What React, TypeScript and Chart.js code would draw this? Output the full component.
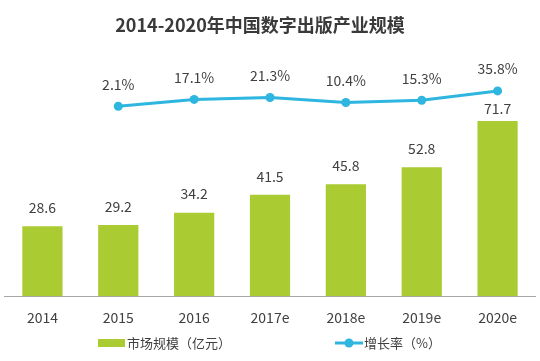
import React, { useEffect, useRef } from "react";
import { Chart, registerables } from "chart.js";

Chart.register(...registerables);

const categories = ["2014", "2015", "2016", "2017e", "2018e", "2019e", "2020e"];
const marketSize = [28.6, 29.2, 34.2, 41.5, 45.8, 52.8, 71.7];
const growthRate = [null, 2.1, 17.1, 21.3, 10.4, 15.3, 35.8];
const titleText = "2014-2020年中国数字出版产业规模";
const barLegend = "市场规模（亿元）";
const lineLegend = "增长率（%）";

const GREEN = "#AACB32";
const BLUE = "#2EB5E0";
const TEXT = "#404040";
const FONT = "'Noto Sans CJK SC', 'Noto Sans', sans-serif";

const decorPlugin = {
  id: "decor",
  afterDatasetsDraw(chart: any) {
    const ctx = chart.ctx;
    ctx.save();
    ctx.fillStyle = TEXT;
    ctx.textAlign = "center";
    ctx.textBaseline = "middle";
    ctx.font = `14px ${FONT}`;
    const barMeta = chart.getDatasetMeta(0);
    barMeta.data.forEach((el: any, i: number) => {
      const off = i === marketSize.length - 1 ? 12.5 : 18.5;
      ctx.fillText(String(marketSize[i]), el.x, el.y - off);
    });
    const lineMeta = chart.getDatasetMeta(1);
    lineMeta.data.forEach((el: any, i: number) => {
      const v = growthRate[i];
      if (v === null || v === undefined) return;
      ctx.fillText(v.toFixed(1) + "%", el.x, el.y - 22);
    });
    ctx.restore();
  },
  afterDraw(chart: any) {
    const ctx = chart.ctx;
    ctx.save();
    // title
    ctx.fillStyle = "#3a3a3a";
    ctx.textAlign = "center";
    ctx.textBaseline = "middle";
    ctx.font = `bold 18px ${FONT}`;
    ctx.fillText(titleText, 260, 25);
    // legend
    const ly = 343;
    ctx.fillStyle = GREEN;
    ctx.fillRect(98, ly - 4, 27, 8);
    ctx.fillStyle = TEXT;
    ctx.textAlign = "left";
    ctx.font = `13px ${FONT}`;
    ctx.fillText(barLegend, 127, ly);
    ctx.strokeStyle = BLUE;
    ctx.lineWidth = 3;
    ctx.beginPath();
    ctx.moveTo(335, ly);
    ctx.lineTo(363, ly);
    ctx.stroke();
    ctx.fillStyle = BLUE;
    ctx.beginPath();
    ctx.arc(349, ly, 4.5, 0, Math.PI * 2);
    ctx.fill();
    ctx.fillStyle = TEXT;
    ctx.fillText(lineLegend, 364, ly);
    ctx.restore();
  },
};

export default function App() {
  const ref = useRef<HTMLCanvasElement | null>(null);
  useEffect(() => {
    if (!ref.current) return;
    const chart = new Chart(ref.current, {
      type: "bar",
      data: {
        labels: categories,
        datasets: [
          {
            type: "bar",
            label: barLegend,
            data: marketSize,
            backgroundColor: GREEN,
            barPercentage: 0.53,
            categoryPercentage: 1,
            yAxisID: "y",
            order: 1,
          },
          {
            type: "line",
            label: lineLegend,
            data: growthRate as any,
            borderColor: BLUE,
            backgroundColor: BLUE,
            borderWidth: 3,
            pointRadius: 4.5,
            pointBorderWidth: 0,
            pointBackgroundColor: BLUE,
            tension: 0,
            yAxisID: "y1",
            order: 0,
          } as any,
        ],
      },
      options: {
        responsive: false,
        animation: false,
        devicePixelRatio: 1,
        layout: { padding: { top: 52, bottom: 30, left: 0, right: 0 } },
        plugins: {
          legend: { display: false },
          title: { display: false },
          tooltip: { enabled: false },
        },
        scales: {
          x: {
            grid: { display: false },
            border: { display: true, color: "#a6a6a6", width: 1 },
            ticks: {
              color: TEXT,
              font: { family: FONT, size: 14 },
              padding: 5,
            },
          },
          y: { display: false, min: 0, max: 100 },
          y1: { display: false, min: -414, max: 121, position: "right" },
        },
      },
      plugins: [decorPlugin],
    });
    return () => chart.destroy();
  }, []);
  return (
    <div style={{ position: "fixed", left: 0, top: 0, width: 540, height: 361, background: "#fff" }}>
      <canvas ref={ref} width={540} height={361} />
    </div>
  );
}
